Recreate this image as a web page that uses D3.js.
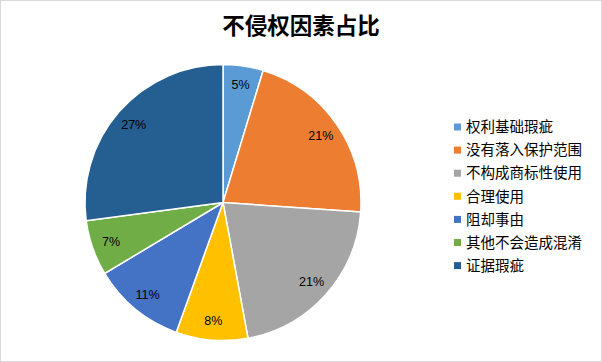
<!DOCTYPE html>
<html>
<head>
<meta charset="utf-8">
<script src="https://cdn.jsdelivr.net/npm/d3@7"></script>
<style>
  html, body { margin: 0; padding: 0; background: #fff; }
  svg { display: block; }
</style>
</head>
<body>
<svg id="chart" width="602" height="362"></svg>
<script>
const categories = ["权利基础瑕疵", "没有落入保护范围", "不构成商标性使用", "合理使用", "阻却事由", "其他不会造成混淆", "证据瑕疵"];
const values = [4.7, 21.4, 21.0, 8.4, 10.9, 6.5, 27.1];
const colors = ["#5B9BD5", "#ED7D31", "#A5A5A5", "#FFC000", "#4472C4", "#70AD47", "#255E91"];

const width = 602, height = 362;
const cx = 223, cy = 202.5, radius = 138;

const svg = d3.select("#chart");

// chart border
svg.append("rect")
    .attr("x", 0.5).attr("y", 0.5)
    .attr("width", width - 1).attr("height", height - 1)
    .attr("fill", "#fff")
    .attr("stroke", "#d9d9d9");

svg.append("text")
    .attr("x", 301)
    .attr("y", 34)
    .attr("text-anchor", "middle")
    .style("font-family", "'Noto Sans CJK SC', sans-serif")
    .style("font-size", "22.5px")
    .style("font-weight", "bold")
    .style("fill", "#000")
    .text("不侵权因素占比");

const total = d3.sum(values);
const pie = d3.pie().sort(null).value(d => d)(values);
const arc = d3.arc().innerRadius(0).outerRadius(radius);
const labelArc = d3.arc().innerRadius(radius * 0.86).outerRadius(radius * 0.86);

const g = svg.append("g").attr("transform", `translate(${cx},${cy})`);

g.selectAll(".slice")
    .data(pie)
    .enter().append("path")
    .attr("class", "slice")
    .attr("d", arc)
    .attr("fill", (d, i) => colors[i])
    .attr("stroke", "#fff")
    .attr("stroke-width", 1.5);

g.selectAll(".lbl")
    .data(pie)
    .enter().append("text")
    .attr("class", "lbl")
    .attr("transform", d => `translate(${labelArc.centroid(d)})`)
    .attr("text-anchor", "middle")
    .attr("dy", "0.35em")
    .style("font-family", "'Liberation Sans', 'Noto Sans', sans-serif")
    .style("font-size", "12.5px")
    .style("fill", "#000")
    .text(d => Math.round(d.value / total * 100) + "%");

// legend
const legend = svg.append("g").attr("transform", "translate(454,127)");
const item = legend.selectAll(".item")
    .data(categories)
    .enter().append("g")
    .attr("class", "item")
    .attr("transform", (d, i) => `translate(0,${i * 23.1})`);

item.append("rect")
    .attr("x", 0).attr("y", -3.5)
    .attr("width", 7).attr("height", 7)
    .attr("fill", (d, i) => colors[i]);

item.append("text")
    .attr("x", 12)
    .attr("dy", "0.36em")
    .style("font-family", "'Noto Sans CJK SC', sans-serif")
    .style("font-size", "14.5px")
    .style("fill", "#000")
    .text(d => d);
</script>
</body>
</html>
